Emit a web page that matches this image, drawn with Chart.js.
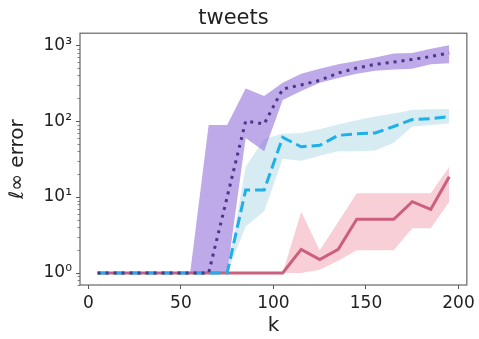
<!DOCTYPE html>
<html>
<head>
<meta charset="utf-8">
<script src="https://cdn.jsdelivr.net/npm/chart.js@4/dist/chart.umd.min.js"></script>
<style>
  html, body { margin: 0; padding: 0; background: #fff; }
  canvas { display: block; }
</style>
</head>
<body>
<canvas id="myChart" width="479" height="339"></canvas>
<script>
/* globals Chart:false */

// k values (x)
const ks = [5, 15, 25, 35, 45, 55, 65, 75, 85, 95, 105, 115, 125, 135, 145, 155, 165, 175, 185, 195]

// purple, dotted
const purpleMid = [1, 1, 1, 1, 1, 1, 1, 10, 100, 92, 265, 300, 345, 430, 500, 560, 600, 650, 710, 790]
const purpleLo = [1, 1, 1, 1, 1, 1, 1, 1, 60, 40, 190, 250, 320, 370, 420, 460, 480, 490, 560, 580]
const purpleHi = [1, 1, 1, 1, 1, 1, 89, 89, 270, 215, 320, 420, 490, 560, 620, 690, 780, 790, 900, 1000]

// cyan, dashed
const cyanMid = [1, 1, 1, 1, 1, 1, 1, 1, 12.4, 12.4, 61, 46, 48, 65, 68, 70, 85, 105, 108, 115]
const cyanLo = [1, 1, 1, 1, 1, 1, 1, 1, 4.1, 6.5, 32, 30, 35, 40, 40, 41, 52, 85, 89, 93]
const cyanHi = [1, 1, 1, 1, 1, 1, 1, 1, 25, 58, 68, 70, 78, 90, 103, 115, 126, 140, 143, 145]

// pink, solid
const pinkMid = [1, 1, 1, 1, 1, 1, 1, 1, 1, 1, 1, 2.05, 1.5, 2.05, 5.1, 5.1, 5.1, 8.7, 6.9, 18.5]
const pinkLo = [1, 1, 1, 1, 1, 1, 1, 1, 1, 1, 1, 1, 1.1, 1.45, 2.0, 2.0, 2.0, 3.9, 3.9, 8.7]
const pinkHi = [1, 1, 1, 1, 1, 1, 1, 1, 1, 1, 1, 6.4, 2.0, 4.7, 11.2, 11.2, 11.2, 11.2, 11.2, 25]

// ticks
const xTickValues = [0, 50, 100, 150, 200]
const yTickValues = [1, 10, 100, 1000]
const yTickLabels = ['10⁰', '10¹', '10²', '10³']
const yMinorValues = [0.7, 0.8, 0.9, 2, 3, 4, 5, 6, 7, 8, 9, 20, 30, 40, 50, 60, 70, 80, 90, 200, 300, 400, 500, 600, 700, 800, 900]

const pts = (arr) => ks.map((k, i) => ({ x: k, y: arr[i] }))

const band = (arr, color, fill, order) => ({
  data: pts(arr),
  borderWidth: 0,
  pointRadius: 0,
  backgroundColor: color,
  fill: fill,
  order: order
})

const line = (arr, color, dash, order) => ({
  data: pts(arr),
  borderColor: color,
  borderWidth: 3,
  borderDash: dash,
  pointRadius: 0,
  fill: false,
  tension: 0,
  order: order
})

const frame = {
  id: 'frame',
  afterDatasetsDraw (chart) {
    const { ctx, chartArea: a, scales } = chart
    ctx.save()
    ctx.strokeStyle = '#666'
    ctx.lineWidth = 1.2
    ctx.strokeRect(a.left, a.top, a.right - a.left, a.bottom - a.top)
    // minor ticks on the log axis
    ctx.lineWidth = 0.8
    yMinorValues.forEach(v => {
      const y = Math.round(scales.y.getPixelForValue(v)) + 0.5
      ctx.beginPath()
      ctx.moveTo(a.left - 2.5, y)
      ctx.lineTo(a.left, y)
      ctx.stroke()
    })
    ctx.restore()
  }
}

const ctx = document.getElementById('myChart')
// eslint-disable-next-line no-unused-vars
const myChart = new Chart(ctx, {
  type: 'line',
  data: {
    datasets: [
      band(pinkLo, 'transparent', false, 12),
      band(pinkHi, 'rgba(240, 128, 150, 0.38)', '-1', 12),
      band(cyanLo, 'transparent', false, 11),
      band(cyanHi, 'rgba(173, 216, 230, 0.5)', '-1', 11),
      band(purpleLo, 'transparent', false, 10),
      band(purpleHi, 'rgba(147, 112, 219, 0.6)', '-1', 10),
      line(pinkMid, '#cc5f7d', [], 3),
      line(cyanMid, '#1fb0ea', [11, 5], 2),
      line(purpleMid, '#4b378a', [3, 5], 1)
    ]
  },
  options: {
    responsive: false,
    animation: false,
    layout: {
      padding: { left: 0, right: 12, top: 0, bottom: 0 }
    },
    scales: {
      x: {
        type: 'linear',
        min: -4.5,
        max: 204.5,
        afterBuildTicks: (scale) => {
          scale.ticks = xTickValues.map(v => ({ value: v }))
        },
        afterFit: (scale) => { scale.height = 54 },
        grid: { drawOnChartArea: false, tickLength: 4, tickColor: '#555' },
        border: { display: false },
        ticks: {
          padding: 4,
          color: '#222',
          font: { family: 'DejaVu Sans', size: 17 },
          maxRotation: 0
        },
        title: {
          display: true,
          text: 'k',
          color: '#222',
          font: { family: 'DejaVu Sans', size: 20 },
          padding: { top: 0, bottom: 1 }
        }
      },
      y: {
        type: 'logarithmic',
        min: 0.695,
        max: 1440,
        afterBuildTicks: (scale) => {
          scale.ticks = yTickValues.map(v => ({ value: v }))
        },
        afterFit: (scale) => { scale.width = 80 },
        grid: { drawOnChartArea: false, tickLength: 4, tickColor: '#555' },
        border: { display: false },
        ticks: {
          padding: 4,
          color: '#222',
          font: { family: 'DejaVu Sans', size: 17 },
          callback: (v) => {
            const i = yTickValues.indexOf(v)
            return i >= 0 ? yTickLabels[i] : ''
          }
        },
        title: {
          display: true,
          text: 'ℓ∞ error',
          color: '#222',
          font: { family: 'DejaVu Sans', size: 20 },
          padding: { top: 6, bottom: 0 }
        }
      }
    },
    plugins: {
      legend: { display: false },
      tooltip: { enabled: false },
      title: {
        display: true,
        text: 'tweets',
        color: '#222',
        font: { family: 'DejaVu Sans', size: 21, weight: 'normal' },
        padding: { top: 6, bottom: 2 }
      }
    }
  },
  plugins: [frame]
})
</script>
</body>
</html>
